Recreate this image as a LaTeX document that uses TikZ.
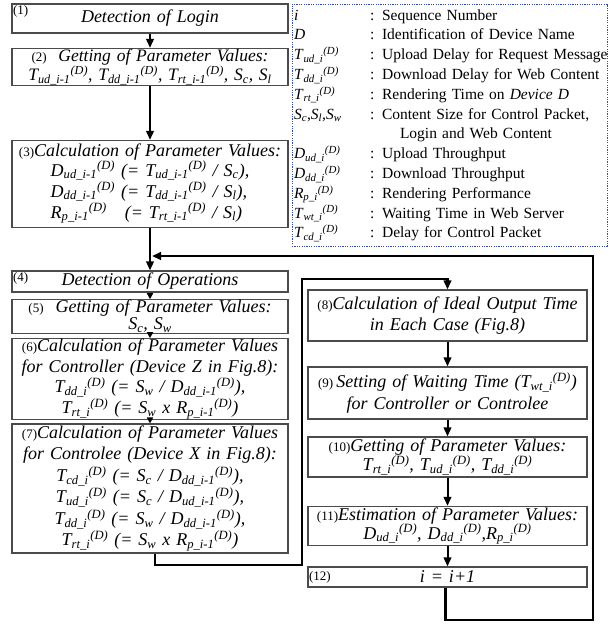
\documentclass[tikz,border=0pt]{standalone}
\usepackage{fontspec}
\setmainfont{Liberation Serif}
\usetikzlibrary{arrows.meta,positioning}
\definecolor{legendblue}{RGB}{52,78,160}
\definecolor{boxgray}{RGB}{75,75,75}
\newcommand{\boxfont}{\fontsize{18}{21.5}\selectfont\itshape}
\newcommand{\tagfont}{\fontsize{13}{14}\selectfont\upshape}
\newcommand{\pv}[3]{\textit{#1}\textsubscript{\textit{#2}}\textsuperscript{\textit{(#3)}}}
\newcommand{\sz}[1]{\textit{S}\textsubscript{\textit{#1}}}
\tikzset{
  wire/.style={black,line width=2pt},
  flow/.style={wire,-{Triangle[length=9pt,width=7.5pt]}},
  shortflow/.style={wire,line width=1.6pt,-{Triangle[length=6pt,width=6pt]}},
  loopflow/.style={flow,line width=2.6pt},
  stepbox/.style={draw=boxgray,line width=1.1pt,inner sep=0.5pt,align=center,font=\boxfont},
  leftbox/.style={stepbox,minimum width=276pt,text width=274pt},
  rightbox/.style={stepbox,minimum width=279pt,text width=277pt},
  tag/.style={font=\tagfont,inner sep=1.5pt},
  legend/.style={draw=legendblue,line width=1pt,dash pattern=on 1.2pt off 1.2pt,
                 minimum width=315pt,minimum height=242pt,text width=311pt,align=left,
                 inner sep=2pt,font=\fontsize{15.5}{19.8}\selectfont},
}

\begin{document}
\begin{tikzpicture}[x=1pt,y=-1pt]
  \path[use as bounding box] (0,0) rectangle (612,627);

  % left column: login phase
  \node[leftbox,minimum height=29pt,label={[tag,anchor=north west]north west:(1)}]
    (login) at (150,18.5) {Detection of Login};
  \node[leftbox,minimum height=37pt,font=\fontsize{17.5}{19}\selectfont\itshape]
    (getlogin) at (150,67)
    {{\tagfont(2)}\ \ Getting of Parameter Values:\\
     \pv{T}{ud\_i-1}{D}, \pv{T}{dd\_i-1}{D}, \pv{T}{rt\_i-1}{D}, \sz{c}, \sz{l}};
  \node[leftbox,minimum height=87pt] (calclogin) at (150,184)
    {{\tagfont(3)}Calculation of Parameter Values:\\
     \begin{tabular}{@{}l@{}}
     \pv{D}{ud\_i-1}{D} (= \pv{T}{ud\_i-1}{D} / \sz{c}),\\[-0.5pt]
     \pv{D}{dd\_i-1}{D} (= \pv{T}{dd\_i-1}{D} / \sz{l}),\\[-0.5pt]
     \pv{R}{p\_i-1}{D}\quad(= \pv{T}{rt\_i-1}{D} / \sz{l})
     \end{tabular}};

  % left column: operation phase
  \node[leftbox,minimum height=21pt,label={[tag,anchor=north west]north west:(4)}]
    (detectop) at (150,281.5) {Detection of Operations};
  \node[leftbox,minimum height=33pt,font=\fontsize{18}{17}\selectfont\itshape]
    (getop) at (150,316.5)
    {{\tagfont(5)}\ \ Getting of Parameter Values:\\ \sz{c}, \sz{w}};
  \node[leftbox,minimum height=78pt,font=\fontsize{18}{20.5}\selectfont\itshape]
    (calcer) at (150,379)
    {{\tagfont(6)}Calculation of Parameter Values\\
     for Controller (Device Z in Fig.8):\\
     \pv{T}{dd\_i}{D} (= \sz{w} / \pv{D}{dd\_i-1}{D}),\\
     \pv{T}{rt\_i}{D} (= \sz{w} x \pv{R}{p\_i-1}{D})};
  \node[leftbox,minimum height=129pt] (calcee) at (150,488.5)
    {{\tagfont(7)}Calculation of Parameter Values\\
     for Controlee (Device X in Fig.8):\\
     \pv{T}{cd\_i}{D} (= \sz{c} / \pv{D}{dd\_i-1}{D}),\\
     \pv{T}{ud\_i}{D} (= \sz{c} / \pv{D}{ud\_i-1}{D}),\\
     \pv{T}{dd\_i}{D} (= \sz{w} / \pv{D}{dd\_i-1}{D}),\\
     \pv{T}{rt\_i}{D} (= \sz{w} x \pv{R}{p\_i-1}{D})};

  % right column
  \node[rightbox,minimum height=51pt] (ideal) at (447.5,315.5)
    {{\tagfont(8)}Calculation of Ideal Output Time\\ in Each Case (Fig.8)};
  \node[rightbox,minimum height=52pt] (waiting) at (447.5,393)
    {{\tagfont(9)}\,Setting of Waiting Time (\pv{T}{wt\_i}{D})\\ for Controller or Controlee};
  \node[rightbox,minimum height=40pt,font=\fontsize{18}{19}\selectfont\itshape]
    (getnext) at (447.5,457)
    {{\tagfont(10)}Getting of Parameter Values:\\
     \pv{T}{rt\_i}{D}, \pv{T}{ud\_i}{D}, \pv{T}{dd\_i}{D}};
  \node[rightbox,minimum height=39pt,font=\fontsize{18}{19}\selectfont\itshape]
    (estimate) at (447.5,526)
    {{\tagfont(11)}Estimation of Parameter Values:\\
     \pv{D}{ud\_i}{D}, \pv{D}{dd\_i}{D},\pv{R}{p\_i}{D}};
  \node[rightbox,minimum height=20pt,label={[tag,anchor=west]west:(12)}]
    (incr) at (447.5,577) {\textit{i} = \textit{i}+\textit{1}};

  % legend
  \node[legend] (legend) at (449.5,125)
    {\begin{tabular}{@{}p{76pt}@{}l@{}}
     \textit{i} & : Sequence Number\\
     \textit{D} & : Identification of Device Name\\
     \pv{T}{ud\_i}{D} & : Upload Delay for Request Message\\
     \pv{T}{dd\_i}{D} & : Download Delay for Web Content\\
     \pv{T}{rt\_i}{D} & : Rendering Time on \textit{Device D}\\
     \sz{c},\sz{l},\sz{w} & : Content Size for Control Packet,\\
      & \hspace{30pt}Login and Web Content\\
     \pv{D}{ud\_i}{D} & : Upload Throughput\\
     \pv{D}{dd\_i}{D} & : Download Throughput\\
     \pv{R}{p\_i}{D} & : Rendering Performance\\
     \pv{T}{wt\_i}{D} & : Waiting Time in Web Server\\
     \pv{T}{cd\_i}{D} & : Delay for Control Packet
     \end{tabular}};

  % connectors
  \coordinate (join) at (152,256);
  \coordinate (innerlow) at (302,565);
  \coordinate (innertop) at (302,279);
  \coordinate (outerlow) at (593,620);
  \draw[flow] (login) -- (getlogin);
  \draw[flow] (getlogin) -- (calclogin);
  \draw[flow] (calclogin) -- (detectop);
  \draw[shortflow] (detectop) -- (getop);
  \draw[shortflow] (getop) -- (calcer);
  \draw[shortflow] (calcer) -- (calcee);
  \draw[loopflow] ([xshift=5pt]calcee.south) |- (innerlow) -- (innertop) -| (ideal.north);
  \draw[flow] (ideal) -- (waiting);
  \draw[flow] (waiting) -- (getnext);
  \draw[flow] (getnext) -- (estimate);
  \draw[flow] (estimate) -- (incr);
  \draw[loopflow] ([xshift=-2pt]incr.south) |- (outerlow) |- (join);
\end{tikzpicture}
\end{document}
